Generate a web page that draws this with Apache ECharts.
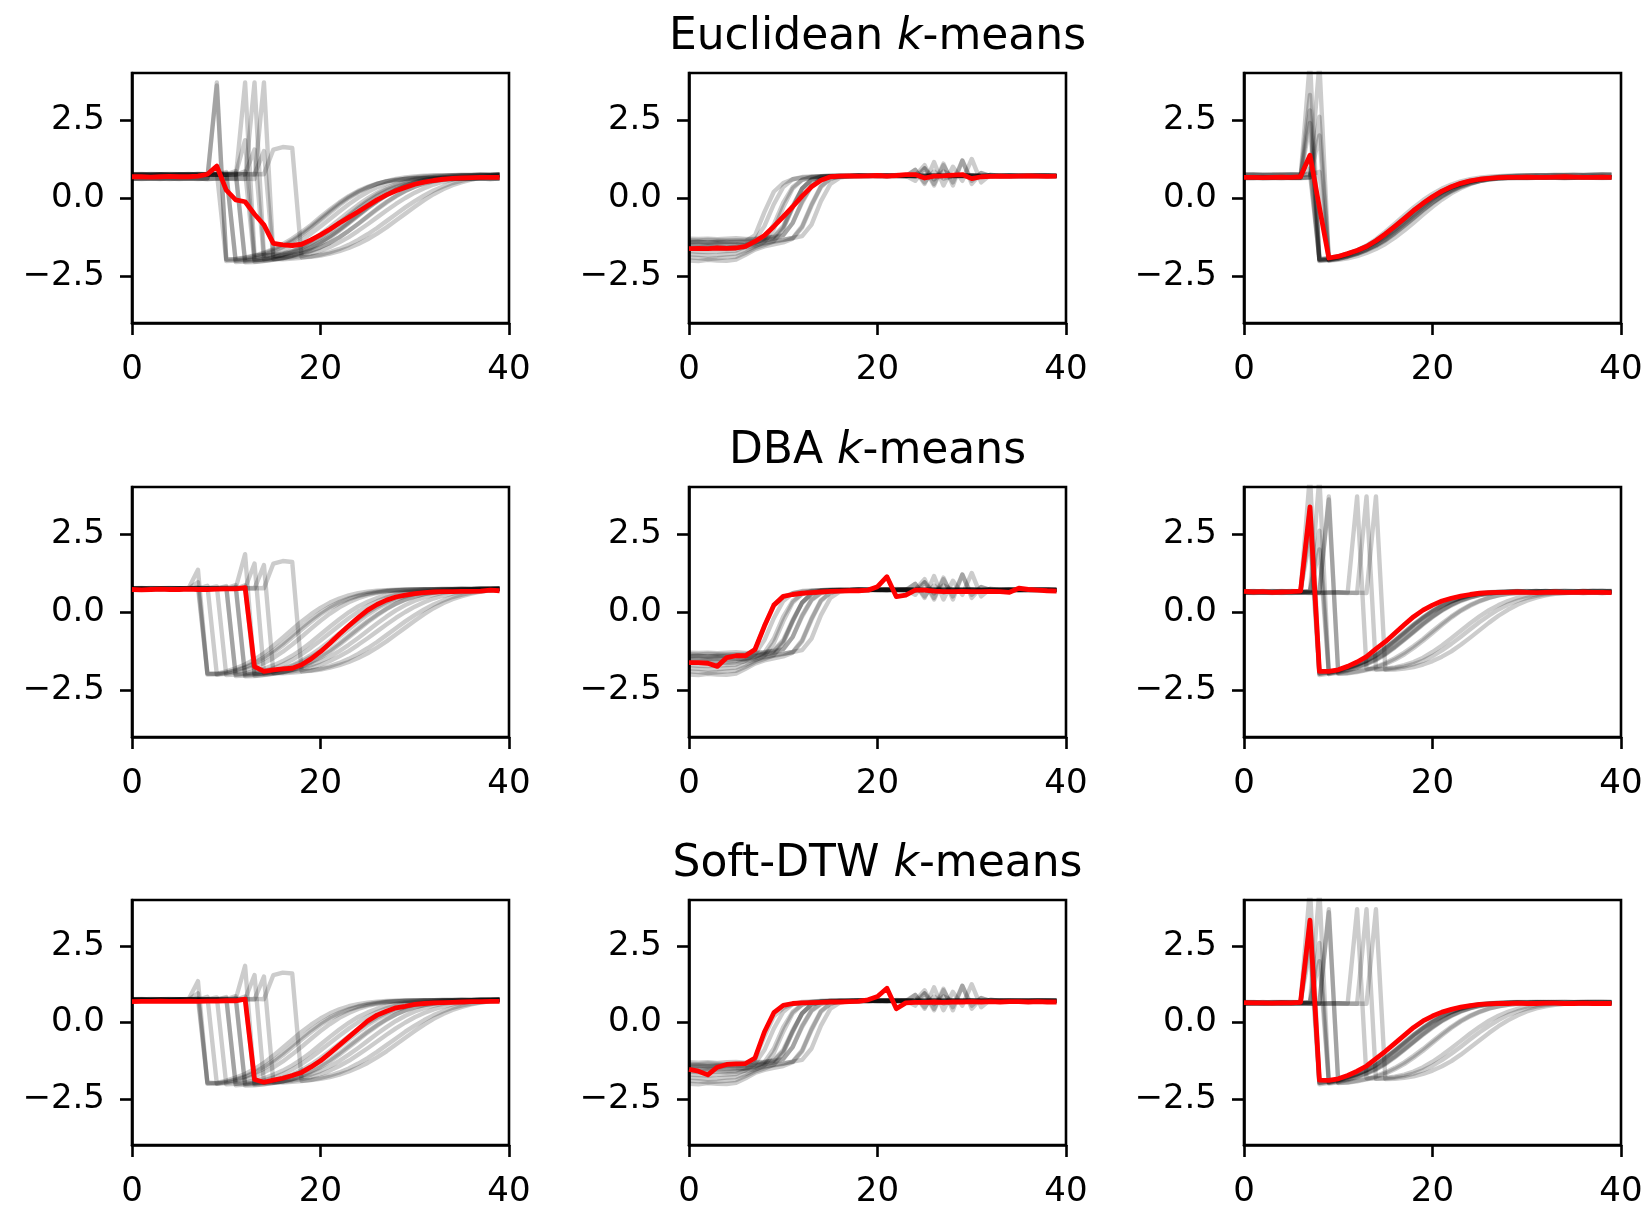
<!DOCTYPE html>
<html>
<head>
<meta charset="utf-8">
<script src="https://cdn.jsdelivr.net/npm/echarts@6/dist/echarts.min.js"></script>
<style>
  html, body { margin: 0; padding: 0; background: #fff; }
  #chart { width: 1646px; height: 1209px; }
</style>
</head>
<body>
<div id="chart"></div>
<script>
// Trace time series (z-normalised, resampled to 40 points).
// Class with a small bump before the dip.
const bumpCurves = [
  [0.74,0.75,0.73,0.74,0.76,0.74,0.75,1.35,-2.0,-1.97,-1.9,-1.8,-1.68,-1.52,-1.32,-1.08,-0.82,-0.56,-0.3,-0.07,0.13,0.3,0.43,0.53,0.6,0.65,0.68,0.7,0.71,0.72,0.72,0.73,0.72,0.73,0.74,0.73,0.74,0.74,0.75,0.74],
  [0.76,0.74,0.75,0.73,0.75,0.76,0.74,0.95,-1.98,-2.0,-1.94,-1.86,-1.76,-1.62,-1.45,-1.24,-1.0,-0.74,-0.48,-0.24,-0.02,0.17,0.32,0.44,0.53,0.6,0.65,0.68,0.7,0.71,0.72,0.72,0.73,0.74,0.73,0.74,0.73,0.74,0.75,0.75],
  [0.73,0.74,0.74,0.75,0.73,0.74,0.75,0.78,-1.96,-1.98,-1.95,-1.88,-1.79,-1.66,-1.5,-1.3,-1.07,-0.82,-0.56,-0.31,-0.08,0.12,0.28,0.41,0.51,0.58,0.63,0.67,0.69,0.7,0.71,0.72,0.72,0.73,0.73,0.72,0.73,0.74,0.74,0.73],
  [0.75,0.76,0.74,0.75,0.74,0.76,0.75,0.74,0.84,-2.0,-1.98,-1.93,-1.86,-1.76,-1.63,-1.47,-1.27,-1.04,-0.79,-0.53,-0.28,-0.05,0.15,0.31,0.44,0.54,0.61,0.66,0.69,0.71,0.72,0.73,0.73,0.74,0.74,0.75,0.74,0.75,0.75,0.76],
  [0.72,0.74,0.73,0.75,0.74,0.73,0.75,0.74,0.76,0.82,-2.02,-2.0,-1.96,-1.9,-1.82,-1.71,-1.57,-1.4,-1.2,-0.97,-0.72,-0.47,-0.23,-0.01,0.18,0.33,0.45,0.54,0.61,0.66,0.69,0.71,0.72,0.73,0.73,0.74,0.74,0.75,0.74,0.75],
  [0.75,0.74,0.76,0.75,0.74,0.75,0.76,0.74,0.75,0.76,0.79,-2.0,-1.99,-1.95,-1.89,-1.8,-1.68,-1.53,-1.35,-1.14,-0.91,-0.67,-0.43,-0.2,0.01,0.19,0.34,0.46,0.55,0.62,0.66,0.69,0.71,0.72,0.73,0.74,0.74,0.75,0.75,0.76],
  [0.74,0.73,0.75,0.74,0.74,0.76,0.73,0.75,0.74,0.75,0.83,-2.05,-2.03,-2.0,-1.96,-1.9,-1.81,-1.7,-1.55,-1.37,-1.16,-0.93,-0.69,-0.45,-0.22,-0.01,0.17,0.32,0.44,0.53,0.6,0.65,0.68,0.7,0.72,0.73,0.73,0.74,0.74,0.75],
  [0.76,0.75,0.74,0.76,0.75,0.74,0.75,0.76,0.75,0.74,0.76,0.86,-2.0,-1.98,-1.95,-1.9,-1.83,-1.73,-1.6,-1.44,-1.25,-1.03,-0.79,-0.55,-0.31,-0.09,0.11,0.27,0.4,0.5,0.58,0.63,0.67,0.7,0.71,0.72,0.73,0.74,0.74,0.75],
  [0.73,0.74,0.72,0.74,0.73,0.75,0.74,0.73,0.74,0.75,0.74,0.8,-2.06,-2.05,-2.02,-1.98,-1.92,-1.84,-1.73,-1.59,-1.42,-1.22,-1.0,-0.76,-0.52,-0.29,-0.08,0.11,0.27,0.4,0.5,0.57,0.62,0.66,0.69,0.71,0.72,0.73,0.73,0.74],
  [0.75,0.76,0.74,0.75,0.76,0.75,0.77,0.75,0.76,0.75,0.74,0.76,1.85,-1.98,-1.97,-1.95,-1.91,-1.86,-1.79,-1.7,-1.58,-1.43,-1.25,-1.05,-0.83,-0.6,-0.37,-0.15,0.05,0.22,0.36,0.47,0.55,0.61,0.65,0.68,0.7,0.72,0.73,0.74],
  [0.74,0.75,0.75,0.73,0.74,0.75,0.74,0.76,0.74,0.75,0.75,0.74,0.85,-2.03,-2.01,-1.97,-1.92,-1.85,-1.75,-1.62,-1.46,-1.27,-1.05,-0.81,-0.57,-0.33,-0.11,0.09,0.26,0.39,0.49,0.57,0.62,0.66,0.69,0.71,0.72,0.73,0.73,0.74],
  [0.76,0.75,0.77,0.76,0.75,0.76,0.75,0.77,0.76,0.75,0.76,0.77,0.76,1.55,-1.96,-1.95,-1.93,-1.9,-1.85,-1.78,-1.69,-1.57,-1.42,-1.25,-1.05,-0.84,-0.62,-0.4,-0.19,0.0,0.17,0.31,0.43,0.52,0.59,0.64,0.68,0.7,0.72,0.73],
  [0.74,0.75,0.74,0.76,0.75,0.74,0.75,0.74,0.76,0.75,0.74,0.75,0.76,0.75,1.5,-1.95,-1.96,-1.94,-1.91,-1.87,-1.81,-1.73,-1.63,-1.5,-1.34,-1.16,-0.96,-0.74,-0.52,-0.3,-0.1,0.08,0.24,0.37,0.48,0.56,0.62,0.66,0.69,0.71],
  [0.76,0.77,0.75,0.76,0.77,0.76,0.75,0.77,0.76,0.77,0.76,0.75,0.76,0.77,0.76,1.55,1.63,1.6,-1.9,-1.88,-1.84,-1.78,-1.7,-1.6,-1.47,-1.32,-1.14,-0.94,-0.72,-0.5,-0.28,-0.07,0.12,0.28,0.41,0.51,0.59,0.65,0.69,0.72]
];

// Class with a large spike before the dip.
const spikeCurves = [
  [0.64,0.65,0.63,0.64,0.66,0.64,0.65,4.4,-1.98,-1.94,-1.88,-1.79,-1.69,-1.56,-1.39,-1.17,-0.93,-0.68,-0.42,-0.19,0.02,0.2,0.34,0.45,0.53,0.58,0.61,0.63,0.64,0.65,0.64,0.65,0.66,0.65,0.64,0.65,0.66,0.65,0.64,0.65],
  [0.66,0.65,0.67,0.65,0.66,0.67,0.66,2.8,-1.95,-1.92,-1.86,-1.78,-1.67,-1.54,-1.36,-1.14,-0.9,-0.64,-0.39,-0.16,0.05,0.22,0.36,0.47,0.55,0.6,0.63,0.65,0.66,0.67,0.66,0.67,0.66,0.67,0.68,0.67,0.66,0.67,0.68,0.67],
  [0.65,0.64,0.66,0.65,0.64,0.65,0.66,2.4,-2.02,-1.97,-1.9,-1.81,-1.7,-1.57,-1.4,-1.19,-0.95,-0.7,-0.45,-0.21,0.0,0.18,0.33,0.44,0.52,0.58,0.62,0.64,0.65,0.66,0.65,0.66,0.67,0.66,0.65,0.66,0.67,0.66,0.67,0.66],
  [0.67,0.66,0.65,0.67,0.66,0.65,0.67,3.3,-1.97,-1.93,-1.87,-1.78,-1.68,-1.55,-1.38,-1.16,-0.92,-0.67,-0.41,-0.18,0.03,0.21,0.35,0.46,0.54,0.59,0.62,0.64,0.65,0.66,0.67,0.66,0.65,0.66,0.67,0.66,0.67,0.68,0.67,0.66],
  [0.63,0.64,0.65,0.64,0.63,0.65,0.64,0.66,4.3,-1.97,-1.93,-1.86,-1.77,-1.66,-1.52,-1.34,-1.12,-0.88,-0.63,-0.38,-0.15,0.06,0.23,0.37,0.47,0.54,0.59,0.62,0.64,0.65,0.64,0.65,0.66,0.65,0.64,0.65,0.66,0.65,0.66,0.65],
  [0.65,0.66,0.64,0.65,0.66,0.65,0.64,0.65,2.6,-1.95,-1.9,-1.84,-1.75,-1.64,-1.5,-1.32,-1.1,-0.86,-0.61,-0.36,-0.13,0.07,0.24,0.38,0.48,0.55,0.6,0.63,0.65,0.66,0.65,0.66,0.67,0.66,0.65,0.66,0.67,0.66,0.65,0.66],
  [0.66,0.67,0.65,0.66,0.67,0.66,0.65,0.67,2.0,-1.99,-1.95,-1.88,-1.79,-1.68,-1.54,-1.36,-1.14,-0.9,-0.65,-0.4,-0.17,0.04,0.21,0.35,0.46,0.54,0.59,0.62,0.64,0.65,0.66,0.67,0.66,0.67,0.66,0.65,0.66,0.67,0.66,0.67],
  [0.62,0.63,0.62,0.64,0.63,0.62,0.63,0.64,0.63,3.7,-1.98,-1.96,-1.92,-1.86,-1.78,-1.67,-1.53,-1.36,-1.15,-0.92,-0.67,-0.42,-0.18,0.03,0.2,0.34,0.45,0.53,0.58,0.61,0.63,0.64,0.63,0.64,0.65,0.64,0.63,0.64,0.65,0.64],
  [0.63,0.64,0.63,0.62,0.64,0.63,0.64,0.62,0.63,3.6,-1.96,-1.95,-1.9,-1.84,-1.75,-1.63,-1.48,-1.3,-1.09,-0.86,-0.61,-0.37,-0.14,0.06,0.23,0.36,0.46,0.53,0.58,0.61,0.63,0.64,0.65,0.64,0.63,0.64,0.65,0.64,0.63,0.64],
  [0.62,0.63,0.62,0.61,0.63,0.62,0.63,0.62,0.61,0.62,0.63,0.62,3.7,-1.82,-1.83,-1.81,-1.77,-1.7,-1.6,-1.46,-1.28,-1.07,-0.84,-0.6,-0.36,-0.14,0.06,0.22,0.35,0.45,0.52,0.57,0.6,0.62,0.63,0.62,0.63,0.62,0.63,0.62],
  [0.61,0.62,0.63,0.62,0.61,0.62,0.63,0.62,0.61,0.62,0.63,0.62,0.61,3.7,-1.84,-1.83,-1.8,-1.75,-1.67,-1.56,-1.41,-1.23,-1.02,-0.79,-0.55,-0.32,-0.11,0.08,0.24,0.36,0.45,0.52,0.57,0.6,0.61,0.62,0.61,0.62,0.61,0.62],
  [0.62,0.61,0.62,0.63,0.62,0.61,0.62,0.61,0.62,0.63,0.62,0.61,0.62,0.61,3.7,-1.85,-1.84,-1.81,-1.76,-1.68,-1.57,-1.43,-1.26,-1.05,-0.82,-0.58,-0.34,-0.12,0.07,0.23,0.36,0.46,0.53,0.58,0.61,0.62,0.61,0.62,0.61,0.62]
];

// Class that rises from a low plateau.
const riseCurves = [
  [-1.42,-1.4,-1.43,-1.41,-1.42,-1.4,-1.38,-1.2,-0.45,0.2,0.48,0.6,0.65,0.67,0.68,0.69,0.7,0.7,0.71,0.7,0.71,0.72,0.71,0.7,0.71,0.7,0.71,0.72,0.71,0.7,0.71,0.7,0.71,0.7,0.69,0.7,0.71,0.7,0.71,0.7],
  [-1.5,-1.52,-1.5,-1.49,-1.51,-1.5,-1.48,-1.45,-1.3,-0.85,-0.15,0.35,0.58,0.66,0.69,0.7,0.71,0.7,0.71,0.72,0.7,0.68,0.74,0.71,0.55,0.95,0.6,0.85,0.7,0.72,0.71,0.7,0.71,0.72,0.71,0.7,0.71,0.72,0.71,0.7],
  [-1.35,-1.36,-1.34,-1.35,-1.36,-1.35,-1.34,-1.33,-1.3,-1.22,-0.9,-0.25,0.3,0.58,0.68,0.7,0.71,0.7,0.72,0.71,0.7,0.71,0.72,0.73,0.71,1.05,0.45,1.1,0.4,1.2,0.55,0.8,0.7,0.72,0.71,0.7,0.71,0.72,0.71,0.72],
  [-1.9,-1.92,-1.95,-1.93,-1.9,-1.88,-1.75,-1.6,-1.5,-1.38,-1.0,-0.3,0.3,0.6,0.68,0.7,0.71,0.7,0.72,0.71,0.7,0.72,0.71,0.7,0.71,0.72,0.7,0.71,0.72,0.7,0.71,0.7,0.72,0.71,0.7,0.71,0.7,0.72,0.71,0.7],
  [-2.0,-2.02,-1.98,-2.0,-2.01,-1.97,-1.82,-1.65,-1.55,-1.48,-1.42,-1.3,-0.95,-0.25,0.35,0.62,0.68,0.7,0.71,0.7,0.72,0.7,0.71,0.73,0.7,0.72,0.71,0.7,0.72,0.71,0.7,0.71,0.72,0.7,0.71,0.7,0.71,0.72,0.71,0.7],
  [-1.45,-1.46,-1.47,-1.45,-1.46,-1.48,-1.52,-1.48,-1.42,-1.37,-1.33,-1.28,-1.22,-0.85,-0.1,0.45,0.65,0.7,0.71,0.7,0.72,0.71,0.7,0.68,0.9,0.45,1.15,0.4,1.0,0.55,1.25,0.5,0.75,0.7,0.71,0.72,0.7,0.71,0.72,0.71],
  [-1.55,-1.57,-1.56,-1.55,-1.58,-1.56,-1.5,-1.42,-1.36,-1.3,-1.2,-0.8,-0.1,0.4,0.62,0.68,0.7,0.7,0.71,0.72,0.7,0.71,0.7,0.72,0.71,0.7,0.72,0.71,0.7,0.71,0.72,0.7,0.71,0.7,0.72,0.71,0.7,0.71,0.7,0.71],
  [-1.8,-1.82,-1.84,-1.83,-1.8,-1.78,-1.68,-1.55,-1.4,-1.0,-0.3,0.3,0.58,0.67,0.7,0.71,0.7,0.72,0.71,0.7,0.71,0.72,0.7,0.71,0.9,0.5,0.85,0.62,0.7,0.71,0.72,0.71,0.7,0.71,0.7,0.72,0.71,0.7,0.71,0.7],
  [-1.3,-1.31,-1.3,-1.32,-1.3,-1.29,-1.31,-1.3,-1.28,-1.25,-1.18,-0.8,-0.15,0.38,0.6,0.68,0.7,0.71,0.7,0.72,0.71,0.7,0.71,0.72,0.71,0.7,0.72,0.71,0.7,0.71,0.72,0.7,0.71,0.7,0.72,0.71,0.7,0.71,0.7,0.71],
  [-1.6,-1.62,-1.61,-1.6,-1.63,-1.61,-1.58,-1.52,-1.45,-1.4,-1.35,-1.28,-0.9,-0.2,0.38,0.62,0.69,0.7,0.71,0.7,0.72,0.71,0.7,0.71,0.68,0.95,0.4,1.05,0.5,1.2,0.45,0.8,0.7,0.72,0.71,0.7,0.71,0.72,0.71,0.7],
  [-1.4,-1.41,-1.42,-1.4,-1.39,-1.41,-1.4,-1.38,-1.33,-1.25,-0.95,-0.3,0.3,0.58,0.67,0.7,0.71,0.7,0.71,0.72,0.7,0.71,0.72,0.71,0.7,0.71,0.72,0.7,0.71,0.7,0.72,0.71,0.7,0.71,0.72,0.7,0.71,0.7,0.71,0.72],
  [-1.7,-1.72,-1.73,-1.71,-1.7,-1.68,-1.55,-1.35,-0.9,-0.2,0.35,0.6,0.67,0.69,0.7,0.71,0.7,0.72,0.71,0.7,0.71,0.72,0.7,0.71,0.72,0.71,0.7,0.71,0.72,0.71,0.7,0.71,0.72,0.7,0.71,0.72,0.71,0.7,0.71,0.7]
];

// Cluster (panel column, 1..3) of every curve for each method.
const bumpLabelsEuclidean  = [3,3,3,3,1,1,1,1,1,1,1,1,1,1];
const spikeLabelsEuclidean = [3,3,3,3,3,3,3,1,1,1,1,1];
const bumpLabelsDba        = [1,1,1,1,1,1,1,1,1,1,1,1,1,1];
const spikeLabelsDba       = [3,3,3,3,3,3,3,3,3,3,3,3];
const bumpLabelsSoftDtw    = [1,1,1,1,1,1,1,1,1,1,1,1,1,1];
const spikeLabelsSoftDtw   = [3,3,3,3,3,3,3,3,3,3,3,3];
const riseLabels           = [2,2,2,2,2,2,2,2,2,2,2,2];

// Cluster centres (red curves).
const euclidean1 = [0.68,0.68,0.67,0.68,0.69,0.68,0.68,0.7,0.76,1.02,0.25,-0.06,-0.12,-0.52,-0.86,-1.45,-1.5,-1.52,-1.48,-1.34,-1.18,-1.0,-0.8,-0.62,-0.44,-0.25,-0.06,0.1,0.23,0.34,0.44,0.51,0.56,0.6,0.63,0.64,0.65,0.66,0.66,0.66];
const euclidean2 = [-1.62,-1.61,-1.62,-1.6,-1.61,-1.6,-1.55,-1.39,-1.2,-0.91,-0.6,-0.28,0.06,0.36,0.57,0.68,0.7,0.71,0.7,0.71,0.72,0.7,0.72,0.75,0.75,0.64,0.7,0.71,0.73,0.75,0.62,0.68,0.69,0.7,0.69,0.7,0.71,0.7,0.69,0.7];
const euclidean3 = [0.66,0.66,0.65,0.66,0.67,0.66,0.68,1.37,-0.3,-1.92,-1.87,-1.78,-1.68,-1.55,-1.37,-1.15,-0.91,-0.66,-0.4,-0.17,0.04,0.22,0.36,0.47,0.55,0.6,0.63,0.65,0.66,0.66,0.67,0.66,0.66,0.67,0.68,0.67,0.66,0.66,0.67,0.66];
const dba1 = [0.72,0.71,0.72,0.73,0.72,0.72,0.73,0.72,0.72,0.73,0.74,0.74,0.78,-1.75,-1.9,-1.85,-1.82,-1.8,-1.69,-1.5,-1.27,-1.0,-0.71,-0.44,-0.18,0.06,0.24,0.38,0.48,0.54,0.59,0.62,0.64,0.65,0.65,0.66,0.66,0.67,0.7,0.68];
const dba2 = [-1.62,-1.62,-1.64,-1.74,-1.46,-1.4,-1.4,-1.2,-0.45,0.22,0.5,0.56,0.6,0.62,0.64,0.66,0.67,0.68,0.68,0.7,0.81,1.13,0.49,0.54,0.7,0.7,0.67,0.65,0.65,0.66,0.65,0.65,0.66,0.65,0.63,0.76,0.72,0.7,0.68,0.67];
const dba3 = [0.66,0.64,0.65,0.63,0.64,0.65,0.67,3.36,-1.9,-1.9,-1.85,-1.74,-1.6,-1.43,-1.18,-0.95,-0.68,-0.41,-0.15,0.06,0.22,0.35,0.44,0.51,0.56,0.6,0.62,0.63,0.63,0.64,0.63,0.62,0.63,0.64,0.63,0.63,0.64,0.63,0.63,0.62];
const softDtw1 = [0.68,0.69,0.69,0.7,0.69,0.69,0.7,0.69,0.7,0.7,0.71,0.71,0.76,-1.86,-1.95,-1.88,-1.82,-1.73,-1.63,-1.45,-1.25,-1.0,-0.74,-0.48,-0.21,0.05,0.24,0.37,0.48,0.53,0.59,0.62,0.64,0.65,0.66,0.67,0.68,0.68,0.69,0.69];
const softDtw2 = [-1.53,-1.59,-1.71,-1.46,-1.37,-1.35,-1.34,-1.16,-0.31,0.32,0.56,0.62,0.64,0.65,0.66,0.67,0.67,0.68,0.69,0.74,0.85,1.12,0.45,0.64,0.66,0.66,0.67,0.66,0.67,0.67,0.68,0.67,0.68,0.67,0.68,0.68,0.67,0.68,0.67,0.67];
const softDtw3 = [0.65,0.64,0.64,0.63,0.64,0.64,0.66,3.34,-1.88,-1.89,-1.84,-1.73,-1.59,-1.42,-1.18,-0.94,-0.68,-0.42,-0.16,0.05,0.21,0.34,0.43,0.5,0.55,0.59,0.61,0.62,0.62,0.63,0.62,0.62,0.63,0.63,0.62,0.62,0.63,0.62,0.62,0.62];

const methodNames = ['Euclidean', 'DBA', 'Soft-DTW'];
const yTickValues = [-2.5, 0, 2.5];
const xTickInterval = 20;

// Layout of the 3x3 panels (pixels).
const panelLeft = [132, 689, 1244];
const panelTop = [73, 487, 900];
const panelWidth = 377;
const panelHeight = 250;
const titleY = [38, 452, 865];

const centres = [
  [euclidean1, euclidean2, euclidean3],
  [dba1, dba2, dba3],
  [softDtw1, softDtw2, softDtw3]
];
const bumpLabels = [bumpLabelsEuclidean, bumpLabelsDba, bumpLabelsSoftDtw];
const spikeLabels = [spikeLabelsEuclidean, spikeLabelsDba, spikeLabelsSoftDtw];

const FONT = '"DejaVu Sans", "Liberation Sans", sans-serif';
const toPoints = arr => arr.map((v, i) => [i, v]);
const fmtTick = v => (v < 0 ? '\u2212' : '') + Math.abs(v).toFixed(1);

const grids = [], xAxes = [], yAxes = [], series = [], graphics = [];

for (let r = 0; r < 3; r++) {
  for (let c = 0; c < 3; c++) {
    const p = r * 3 + c;
    grids.push({
      left: panelLeft[c], top: panelTop[r], width: panelWidth, height: panelHeight,
      show: true, borderColor: '#000', borderWidth: 2.6, backgroundColor: 'transparent'
    });
    xAxes.push({
      gridIndex: p, type: 'value', min: 0, max: 40, interval: xTickInterval,
      axisLine: { show: true, onZero: false, lineStyle: { color: '#000', width: 2.6 } },
      axisTick: { show: true, length: 12, lineStyle: { color: '#000', width: 2.6 } },
      axisLabel: { show: true, margin: 30, fontSize: 34, fontFamily: FONT, color: '#000',
                   showMinLabel: true, showMaxLabel: true },
      splitLine: { show: false }
    });
    yAxes.push({
      gridIndex: p, type: 'value', min: -4, max: 4,
      axisLine: { show: true, onZero: false, lineStyle: { color: '#000', width: 2.6 } },
      axisTick: { show: true, length: 12, customValues: yTickValues, lineStyle: { color: '#000', width: 2.6 } },
      axisLabel: { show: true, margin: 27, fontSize: 34, fontFamily: FONT, color: '#000',
                   customValues: yTickValues, formatter: fmtTick },
      splitLine: { show: false }
    });

    const col = c + 1;
    const members = [];
    bumpCurves.forEach((s, k) => { if (bumpLabels[r][k] === col) members.push(s); });
    spikeCurves.forEach((s, k) => { if (spikeLabels[r][k] === col) members.push(s); });
    riseCurves.forEach((s, k) => { if (riseLabels[k] === col) members.push(s); });

    members.forEach(s => {
      series.push({
        type: 'line', xAxisIndex: p, yAxisIndex: p, data: toPoints(s),
        symbol: 'none', silent: true, clip: true, z: 2,
        lineStyle: { color: 'rgba(0,0,0,0.2)', width: 4.4, join: 'round' }
      });
    });
    series.push({
      type: 'line', xAxisIndex: p, yAxisIndex: p, data: toPoints(centres[r][c]),
      symbol: 'none', silent: true, clip: true, z: 3,
      lineStyle: { color: '#ff0000', width: 4.8, join: 'round' }
    });
  }
  graphics.push({
    type: 'text', x: panelLeft[1] + panelWidth / 2, y: titleY[r],
    style: {
      text: methodNames[r] + ' {k|k}-means',
      font: '44px ' + FONT, fill: '#000',
      align: 'center', verticalAlign: 'middle',
      rich: { k: { fontStyle: 'italic', fontSize: 44, fontFamily: FONT, fill: '#000' } }
    }
  });
}

const chart = echarts.init(document.getElementById('chart'), null, { renderer: 'canvas' });
chart.setOption({
  animation: false,
  backgroundColor: '#fff',
  grid: grids,
  xAxis: xAxes,
  yAxis: yAxes,
  series: series,
  graphic: graphics
});
</script>
</body>
</html>
